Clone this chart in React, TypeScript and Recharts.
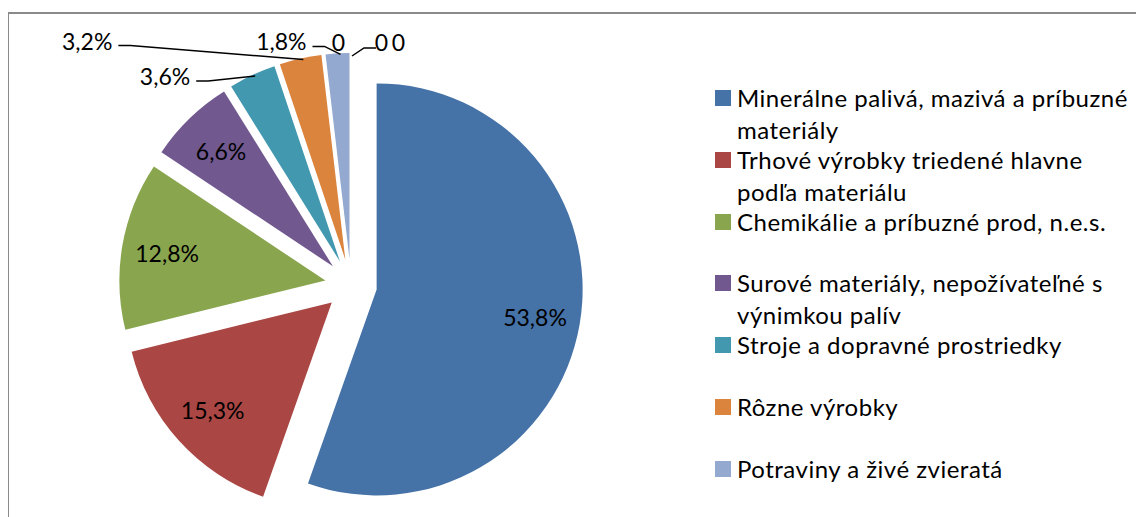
import React from "react";
import { Cell, Pie, PieChart } from "recharts";

const categories = [
  "Minerálne palivá, mazivá a príbuzné materiály",
  "Trhové výrobky triedené hlavne podľa materiálu",
  "Chemikálie a príbuzné prod, n.e.s.",
  "Surové materiály, nepožívateľné s výnimkou palív",
  "Stroje a dopravné prostriedky",
  "Rôzne výrobky",
  "Potraviny a živé zvieratá",
  "Nápoje a tabak",
  "Živočíšne a rastlinné oleje",
  "Komodity inde nešpecifikované",
];
const values = [53.8, 15.3, 12.8, 6.6, 3.6, 3.2, 1.8, 0, 0, 0];
const colors = [
  "#4572A7",
  "#AA4643",
  "#89A54E",
  "#71588F",
  "#4198AF",
  "#DB843D",
  "#93A9CF",
  "#D19392",
  "#B9CD96",
  "#A99BBD",
];
const legendCount = 7;

const data = categories.map((name, i) => ({ name, value: values[i] }));

const W = 1136;
const H = 509;
const CX = 343;
const CY = 277;
const R = 206;
const EXPLODE = 26;
const FONT = "Lato, 'Open Sans', sans-serif";
const RAD = Math.PI / 180;

// outside label placement, relative to the slice's outer point
type Outside = { dx: number; dy: number; leader: "left" | "right" | "none" };
const outside: Record<number, Outside> = {
  4: { dx: -62, dy: 1, leader: "left" },
  5: { dx: -188, dy: -18, leader: "left" },
  6: { dx: -31, dy: -12, leader: "left" },
  7: { dx: -6, dy: -11, leader: "none" },
  8: { dx: 37, dy: -11, leader: "right" },
  9: { dx: 54, dy: -11, leader: "none" },
};

const total = values.reduce((a, b) => a + b, 0);
const midAngles = values.map((v, i) => {
  const before = values.slice(0, i).reduce((a, b) => a + b, 0);
  return 90 - ((before + v / 2) / total) * 360;
});

function fmt(v: number) {
  if (v === 0) return "0";
  return `${v.toFixed(1).replace(".", ",")}%`;
}

const makeLabel = (slice: number) => (p: any) => {
  if (p.index !== slice) return null;
  const cos = Math.cos(-p.midAngle * RAD);
  const sin = Math.sin(-p.midAngle * RAD);
  const text = fmt(p.value);
  const o = outside[slice];
  if (!o) {
    const r = p.outerRadius * 0.78;
    return (
      <text
        x={p.cx + r * cos}
        y={p.cy + r * sin}
        textAnchor="middle"
        dominantBaseline="central"
        fontFamily={FONT}
        fontSize={23}
        fill="#000"
      >
        {text}
      </text>
    );
  }
  const ox = p.cx + p.outerRadius * cos;
  const oy = p.cy + p.outerRadius * sin;
  const tx = ox + o.dx;
  const ty = oy + o.dy;
  let leader: string | null = null;
  if (o.leader === "left") {
    leader = `M${tx + 6},${ty + 5} L${tx + 18},${ty + 5} L${ox + 3},${oy + 1}`;
  } else if (o.leader === "right") {
    leader = `M${tx - 12},${ty + 6} L${tx - 24},${ty + 6} L${ox + 1},${oy + 3}`;
  }
  return (
    <g>
      {leader && <path d={leader} stroke="#000" strokeWidth={1.5} fill="none" />}
      <text
        x={tx}
        y={ty}
        textAnchor="end"
        dominantBaseline="central"
        fontFamily={FONT}
        fontSize={23}
        fill="#000"
      >
        {text}
      </text>
    </g>
  );
};

export default function App() {
  return (
    <div style={{ position: "relative", width: W, height: H }}>
      <div
        style={{
          position: "absolute",
          left: -1,
          top: 4,
          width: W + 1,
          height: H - 4,
          borderTop: "2px solid #8a8a8a",
          borderLeft: "2px solid #8a8a8a",
          boxSizing: "border-box",
        }}
      />
      <div style={{ position: "absolute", left: 0, top: 0 }}>
        <PieChart width={W} height={H} margin={{ top: 0, right: 0, bottom: 0, left: 0 }}>
          {values.map((_, slice) => (
            <Pie
              key={slice}
              data={data}
              dataKey="value"
              nameKey="name"
              cx={CX + EXPLODE * Math.cos(midAngles[slice] * RAD)}
              cy={CY - EXPLODE * Math.sin(midAngles[slice] * RAD)}
              outerRadius={R}
              startAngle={90}
              endAngle={-270}
              stroke="none"
              labelLine={false}
              label={makeLabel(slice)}
              isAnimationActive={false}
            >
              {data.map((_, i) => (
                <Cell key={i} fill={i === slice ? colors[i] : "transparent"} />
              ))}
            </Pie>
          ))}
        </PieChart>
      </div>
      {categories.slice(0, legendCount).map((name, i) => (
        <div
          key={name}
          style={{
            position: "absolute",
            left: 707,
            top: 74 + i * 61.8,
            width: 425,
            fontFamily: FONT,
            fontSize: 24,
            letterSpacing: "0.5px",
            lineHeight: "32px",
            color: "#000",
          }}
        >
          <span
            style={{
              position: "absolute",
              left: 0,
              top: 8,
              width: 16,
              height: 16,
              background: colors[i],
            }}
          />
          <div style={{ marginLeft: 22, width: 400 }}>{name}</div>
        </div>
      ))}
    </div>
  );
}
